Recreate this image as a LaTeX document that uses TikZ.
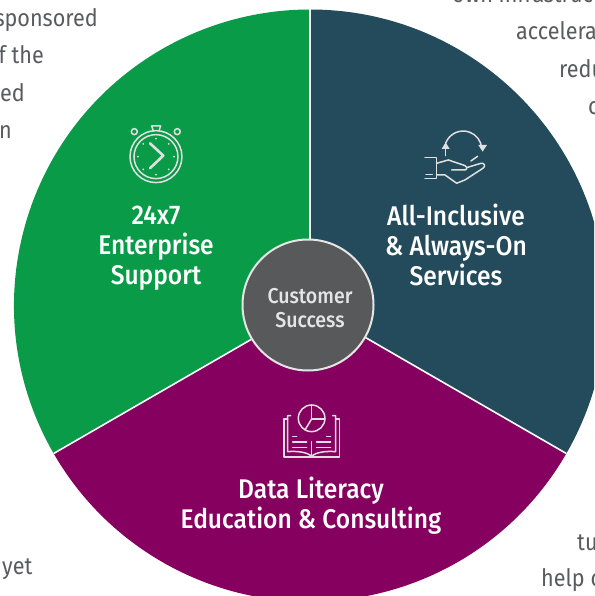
\documentclass[tikz,border=0pt]{standalone}
\usepackage{fontspec}
\setmainfont[FakeStretch=0.9]{Fira Sans}
\newfontfamily\labelfont[FakeStretch=0.91]{Fira Sans Medium}
\usepackage{xcolor}
\usepackage{tikz}
\usetikzlibrary{arrows.meta,positioning}
\definecolor{wedgegreen}{HTML}{0A9B48}
\definecolor{wedgeteal}{HTML}{234B5B}
\definecolor{wedgeplum}{HTML}{85005F}
\definecolor{hubgray}{HTML}{58595B}
\definecolor{bodygray}{HTML}{5A5B60}

\begin{document}
\begin{tikzpicture}[x=1pt,y=-1pt,
    wedgelabel/.style={text=white,font=\labelfont\fontsize{27}{30}\selectfont,align=center},
    hublabel/.style={text=white!90!black,font=\labelfont\fontsize{21.5}{24}\selectfont,align=center},
    bodytext/.style={text=bodygray,font=\fontsize{24}{26}\selectfont,inner sep=0pt},
    iconline/.style={draw=white!88!black,line width=1.5pt,line cap=round,line join=round},
    spoke/.style={draw=white,line width=1.6pt}]
  \clip (0,0) rectangle (594,596);
  \fill[white] (0,0) rectangle (594,596);

  \coordinate (mid) at (310,305.5);
  \fill[wedgeteal] (mid) -- +(0,-296) arc[start angle=-90,end angle=30,radius=296] -- cycle;
  \fill[wedgeplum] (mid) -- +(30:296) arc[start angle=30,end angle=150,radius=296] -- cycle;
  \fill[wedgegreen] (mid) -- +(150:296) arc[start angle=150,end angle=270,radius=296] -- cycle;
  \draw[spoke] (mid) -- +(0,-296);
  \draw[spoke] (mid) -- +(30:296);
  \draw[spoke] (mid) -- +(150:296);

  \node[circle,fill=hubgray,draw=white!90!black,line width=2pt,minimum size=131pt,inner sep=0pt] (hub) at (308,305) {};
  \node[hublabel] (hubtext) at (310,308) {Customer\\Success};

  \node[wedgelabel] (support) at (156,248.5) {24x7\\Enterprise\\Support};
  \node[wedgelabel] (services) at (456,245) {All-Inclusive\\\& Always-On\\Services};
  \node[wedgelabel] (literacy) at (311,506) {Data Literacy\\Education \& Consulting};

  \node[bodytext,anchor=base east] (sponsored) at (98,27) {sponsored};
  \node[bodytext,anchor=base east] (fthe) at (44,64) {f the};
  \node[bodytext,anchor=base east] (ed) at (25,102) {ed};
  \node[bodytext,anchor=base east] (nn) at (12,139) {n};
  \node[bodytext,anchor=base west] (yet) at (2,574) {yet};
  \node[bodytext,anchor=base west] (infra) at (452,3) {own infrastruc};
  \node[bodytext,anchor=base west] (accel) at (516,40) {accelera};
  \node[bodytext,anchor=base west] (redu) at (559,78) {redu};
  \node[bodytext,anchor=base west] (cc) at (588,115) {c};
  \node[bodytext,anchor=base west] (tu) at (577,550) {tu};
  \node[bodytext,anchor=base west] (helpc) at (541,586) {help c};

  \begin{scope}[shift={(120,115)},x=0.333pt,y=-0.333pt]
    \draw[iconline] (108,125) circle[radius=78];
    \draw[iconline] (108,125) circle[radius=66];
    \draw[iconline,line width=2.6pt] (90,85) -- (130,122) -- (90,160);
    \draw[iconline] (100,48) -- (95,33) -- (122,33) -- (117,48);
    \draw[iconline] (43,50) circle[radius=9];
    \draw[iconline] (172,50) circle[radius=9];
    \foreach \a in {0,45,...,315}
      \fill[white!88!black] (108,125) +(\a:54) circle[radius=3];
  \end{scope}

  \begin{scope}[shift={(415,115)},x=0.333pt,y=-0.333pt]
    \draw[iconline] (92,85) arc[start angle=-160,end angle=-5,radius=56];
    \draw[iconline] (92,90) -- (92,122);
    \fill[white!88!black] (92,82) -- (80,102) -- (104,102) -- cycle;
    \fill[white!88!black] (203,110) -- (190,90) -- (216,90) -- cycle;
    \draw[iconline] (168,138) -- (188,124);
    \draw[iconline] (30,128) -- (65,128) -- (65,190) -- (30,190);
    \draw[iconline,densely dotted] (33,178) -- (52,178);
    \draw[iconline] (65,145) -- (100,135) -- (150,152) .. controls (160,158) and (155,167) .. (145,165) -- (110,165);
    \draw[iconline] (155,158) -- (198,145) .. controls (210,143) and (212,155) .. (204,160) -- (150,195) -- (125,205) -- (90,180) -- (65,180);
  \end{scope}

  \begin{scope}[shift={(270,395)},x=0.333pt,y=-0.333pt]
    \draw[iconline] (125,30) arc[start angle=-90,end angle=270,radius=40];
    \draw[iconline] (125,30) -- (125,72) -- (165,72);
    \draw[iconline] (125,72) -- (105,105);
    \draw[iconline] (62,62) -- (53,62) -- (53,170) .. controls (85,168) and (110,172) .. (125,183) .. controls (140,172) and (165,168) .. (197,170) -- (197,62) -- (188,62);
    \draw[iconline] (53,72) -- (42,72) -- (42,186) -- (208,186) -- (208,72) -- (197,72);
    \draw[iconline] (125,140) -- (125,183);
    \draw[iconline] (68,124) -- (80,124);
    \draw[iconline] (68,141) -- (110,141);
    \draw[iconline] (68,158) -- (110,158);
    \draw[iconline] (170,124) -- (182,124);
    \draw[iconline] (140,141) -- (182,141);
    \draw[iconline] (140,158) -- (182,158);
  \end{scope}
\end{tikzpicture}
\end{document}
